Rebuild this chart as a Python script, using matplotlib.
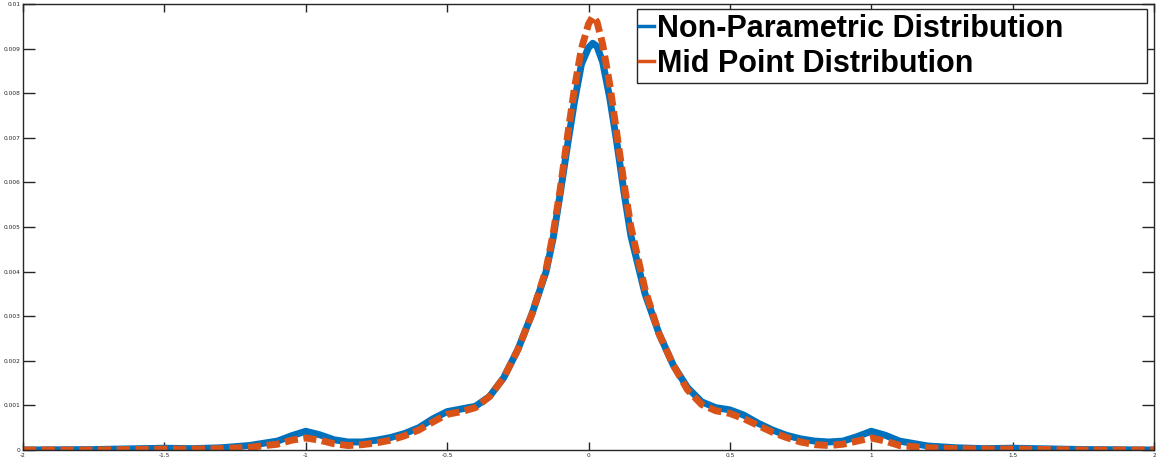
import matplotlib
matplotlib.use("Agg")
import matplotlib.pyplot as plt
from matplotlib.patches import Rectangle

# shared x grid
x_vals = [-2.0, -1.75, -1.5, -1.4, -1.3, -1.2, -1.1, -1.05, -1.0, -0.95, -0.9, -0.85,
          -0.8, -0.75, -0.7, -0.65, -0.6, -0.55, -0.5, -0.45, -0.4, -0.35, -0.3, -0.25,
          -0.2, -0.15, -0.125, -0.1, -0.075, -0.05, -0.025, 0.0, 0.015, 0.03, 0.05,
          0.075, 0.1, 0.125, 0.15, 0.2, 0.25, 0.3, 0.35, 0.4, 0.45, 0.5, 0.55, 0.6,
          0.65, 0.7, 0.75, 0.8, 0.85, 0.9, 0.95, 1.0, 1.05, 1.1, 1.2, 1.3, 1.4, 1.5,
          1.75, 2.0]

# Non-Parametric Distribution (x 1e-3)
non_param = [0.0, 0.01, 0.04, 0.03, 0.05, 0.1, 0.2, 0.32, 0.42, 0.34, 0.23, 0.18,
             0.18, 0.22, 0.28, 0.37, 0.5, 0.7, 0.86, 0.92, 0.98, 1.2, 1.62, 2.25,
             3.05, 4.0, 4.75, 5.75, 6.8, 7.8, 8.65, 9.02, 9.12, 9.05, 8.7,
             7.9, 6.9, 5.8, 4.8, 3.5, 2.6, 1.9, 1.4, 1.08, 0.95, 0.9, 0.78, 0.6,
             0.45, 0.33, 0.25, 0.2, 0.18, 0.2, 0.3, 0.42, 0.33, 0.2, 0.09, 0.05, 0.03, 0.04,
             0.01, 0.0]

# Mid Point Distribution (x 1e-3)
mid_point = [0.0, 0.0, 0.02, 0.02, 0.03, 0.06, 0.13, 0.22, 0.27, 0.22, 0.14, 0.1,
             0.12, 0.16, 0.22, 0.32, 0.45, 0.63, 0.8, 0.86, 0.95, 1.2, 1.62, 2.25,
             3.05, 4.05, 4.85, 5.85, 7.0, 8.1, 9.0, 9.55, 9.72, 9.6, 9.1,
             8.2, 7.1, 6.0, 5.0, 3.6, 2.6, 1.9, 1.35, 1.02, 0.88, 0.82, 0.7, 0.55,
             0.4, 0.28, 0.18, 0.12, 0.1, 0.13, 0.2, 0.27, 0.2, 0.1, 0.05, 0.03, 0.02, 0.02,
             0.0, 0.0]

series_labels = ["Non-Parametric Distribution", "Mid Point Distribution"]
x_ticks = [-2, -1.5, -1, -0.5, 0, 0.5, 1, 1.5, 2]
x_tick_labels = ["-2", "-1.5", "-1", "-0.5", "0", "0.5", "1", "1.5", "2"]
y_ticks = [0, 0.001, 0.002, 0.003, 0.004, 0.005, 0.006, 0.007, 0.008, 0.009, 0.01]
y_tick_labels = ["0", "0.001", "0.002", "0.003", "0.004", "0.005", "0.006", "0.007",
                 "0.008", "0.009", "0.01"]

W, H = 1156, 458
fig = plt.figure(figsize=(W / 100, H / 100), dpi=100)
ax = fig.add_axes([23 / W, 8 / H, 1131 / W, 446 / H])

blue = "#0072BD"
orange = "#D95319"
ax.plot(x_vals, [v * 1e-3 for v in non_param], color=blue, lw=5,
        label=series_labels[0], solid_joinstyle="round")
ax.plot(x_vals, [v * 1e-3 for v in mid_point], color=orange, lw=5,
        linestyle=(0, (1.9, 0.8)), label=series_labels[1])

ax.set_xlim(-2, 2)
ax.set_ylim(0, 0.01)
ax.set_xticks(x_ticks)
ax.set_xticklabels(x_tick_labels)
ax.set_yticks(y_ticks)
ax.set_yticklabels(y_tick_labels)

spine_col = "#262626"
for s in ax.spines.values():
    s.set_color(spine_col)
    s.set_linewidth(1.0)
ax.tick_params(axis="both", direction="in", top=True, right=True, colors=spine_col,
               labelsize=4.2, width=1.0, pad=2)
ax.tick_params(axis="y", length=8.5)
ax.tick_params(axis="x", length=6)

# legend frame (drawn separately to match the wide box)
frame = Rectangle((637 / W, 1 - 83 / H), (1147 - 637) / W, (83 - 9) / H,
                  transform=fig.transFigure, facecolor="white", edgecolor=spine_col,
                  lw=1.0, zorder=5, clip_on=False)
ax.add_patch(frame)

leg = ax.legend(loc="upper left", bbox_to_anchor=(636 / W, 1 - 11 / H),
                bbox_transform=fig.transFigure, borderaxespad=0,
                prop={"family": "Liberation Sans", "weight": "bold", "size": 22},
                handlelength=0.5, handletextpad=0.1, labelspacing=0.15,
                borderpad=0.1, frameon=False)
leg.set_zorder(6)
for line in leg.get_lines():
    line.set_linestyle("-")
    line.set_linewidth(2.5)

fig.savefig("out.png", dpi=100)
